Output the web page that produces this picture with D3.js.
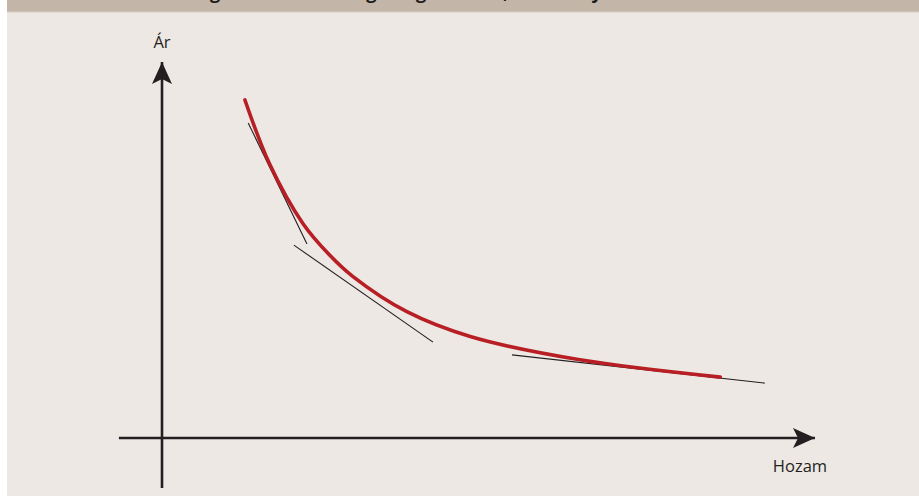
<!DOCTYPE html>
<meta charset="utf-8">
<head>
  <script src="https://d3js.org/d3.v7.min.js"></script>
  <style>
    body { margin: 0; background: #ffffff; }
    #my_dataviz { width: 919px; height: 496px; }
  </style>
</head>
<div id="my_dataviz"></div>
<script>
  // figure title (only its descenders show, the rest is cut off at the top)
  var titleText = "6. ábra: Az ár–hozam görbe meredeksége és görbülete, a kötvényár konvexitása";
  var axisLabels = ["Ár", "Hozam"];

  // red price-yield curve, in chart units (hozam, ár)
  var curveQ = [1.27, 1.65, 2.16, 2.57, 2.92, 3.75, 4.72, 6.40, 8.55];
  var curveP = [8.99, 7.28, 5.70, 4.86, 4.30, 3.36, 2.70, 2.08, 1.62];

  // three tangent lines: [q1, p1, q2, p2]
  var tangents = [
    [1.32, 8.38, 2.22, 5.16],
    [2.02, 5.13, 4.15, 2.55],
    [5.36, 2.21, 9.23, 1.46]
  ];

  var W = 919, H = 496;
  var svg = d3.select("#my_dataviz").append("svg")
    .attr("width", W).attr("height", H);

  // panel + header strip
  svg.append("rect").attr("x", 7).attr("y", 0).attr("width", W - 7).attr("height", H)
    .attr("fill", "#ede8e4");
  svg.append("rect").attr("x", 7).attr("y", 0).attr("width", W - 7).attr("height", 12)
    .attr("fill", "#c4b5a9");
  svg.append("rect").attr("x", 7).attr("y", 11.5).attr("width", W - 7).attr("height", 1)
    .attr("fill", "#d9cfc6");
  svg.append("text")
    .attr("x", 20).attr("y", -1)
    .attr("font-family", "Open Sans, sans-serif")
    .attr("font-weight", "bold")
    .attr("font-size", 18)
    .attr("fill", "#1a1a1a")
    .text(titleText);

  // scales: origin where the axes cross
  var x = d3.scaleLinear().domain([0, 10]).range([162, 815]);
  var y = d3.scaleLinear().domain([0, 10]).range([438, 62]);

  var ink = "#231f20";

  // arrowheads
  var defs = svg.append("defs");
  defs.append("marker")
    .attr("id", "arrow")
    .attr("viewBox", "0 0 22 20")
    .attr("refX", 22).attr("refY", 10)
    .attr("markerWidth", 22).attr("markerHeight", 20)
    .attr("markerUnits", "userSpaceOnUse")
    .attr("orient", "auto")
    .append("path")
    .attr("d", "M0,0 L22,10 L0,20 L5,10 Z")
    .attr("fill", ink);

  // y axis
  svg.append("line")
    .attr("x1", x(0)).attr("y1", y(-1.33))
    .attr("x2", x(0)).attr("y2", y(10))
    .attr("stroke", ink).attr("stroke-width", 2.6)
    .attr("marker-end", "url(#arrow)");
  // x axis
  svg.append("line")
    .attr("x1", x(-0.66)).attr("y1", y(0))
    .attr("x2", x(10)).attr("y2", y(0))
    .attr("stroke", ink).attr("stroke-width", 2.6)
    .attr("marker-end", "url(#arrow)");

  svg.append("text")
    .attr("x", x(0)).attr("y", 48)
    .attr("text-anchor", "middle")
    .attr("font-family", "Open Sans, sans-serif")
    .attr("font-size", 16.5)
    .attr("fill", ink)
    .text(axisLabels[0]);
  svg.append("text")
    .attr("x", 800).attr("y", 472)
    .attr("text-anchor", "middle")
    .attr("font-family", "Open Sans, sans-serif")
    .attr("font-size", 16.5)
    .attr("fill", ink)
    .text(axisLabels[1]);

  // tangent lines
  svg.selectAll(".tan")
    .data(tangents)
    .enter()
    .append("line")
    .attr("class", "tan")
    .attr("x1", function(d) { return x(d[0]); })
    .attr("y1", function(d) { return y(d[1]); })
    .attr("x2", function(d) { return x(d[2]); })
    .attr("y2", function(d) { return y(d[3]); })
    .attr("stroke", ink)
    .attr("stroke-width", 1.1);

  // curve
  var pts = curveQ.map(function(q, i) { return [q, curveP[i]]; });
  var line = d3.line()
    .x(function(d) { return x(d[0]); })
    .y(function(d) { return y(d[1]); })
    .curve(d3.curveCatmullRom.alpha(0.5));
  svg.append("path")
    .datum(pts)
    .attr("d", line)
    .attr("fill", "none")
    .attr("stroke", "#b71f24")
    .attr("stroke-width", 3.6)
    .attr("stroke-linecap", "round");
</script>
